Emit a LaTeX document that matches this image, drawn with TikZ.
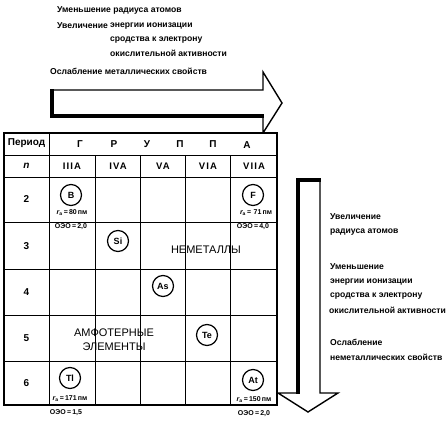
\documentclass[tikz,border=0pt]{standalone}
\usepackage{fontspec}
\setmainfont{Liberation Sans}
\begin{document}
\begin{tikzpicture}[x=1pt,y=-1pt,
  txt/.style={anchor=west,inner sep=0pt,font=\fontsize{8.6}{10}\selectfont\bfseries},
  gridline/.style={line width=0.9pt},
  border/.style={line width=1.4pt},
  elem/.style={circle,draw,line width=1.2pt,minimum size=21pt,inner sep=0pt,font=\fontsize{9}{10}\selectfont\bfseries},
  hdr/.style={font=\fontsize{10}{12}\selectfont\bfseries,inner sep=0pt},
  roman/.style={font=\fontsize{9.5}{12}\selectfont\bfseries\addfontfeature{LetterSpace=12},inner sep=0pt},
  small/.style={font=\fontsize{7}{8}\selectfont\bfseries,inner sep=0pt},
  big/.style={font=\fontsize{11}{14}\selectfont,inner sep=0pt,align=center},
  arrowbox/.style={line width=1.4pt,line join=miter,fill=white},
  shadow/.style={line width=3.2pt,line cap=rect}]
\useasboundingbox (0,0) rectangle (448,423);

% top texts
\node[txt] (t1) at (57,10) {Уменьшение радиуса атомов};
\node[txt] (t2) at (57,26) {Увеличение};
\node[txt] (t3) at (110,26) {энергии ионизации};
\node[txt] (t4) at (110,40) {сродства к электрону};
\node[txt] (t5) at (110,53) {окислительной активности};
\node[txt] (t6) at (50,71) {Ослабление металлических свойств};

% horizontal arrow
\draw[arrowbox] (52,90) -- (263,90) -- (263,72) -- (282,103) -- (263,133) -- (263,116) -- (52,116) -- cycle;
\draw[shadow] (52,91) -- (52,116) -- (262,116);

% vertical arrow
\draw[arrowbox] (298,180) -- (320,180) -- (320,393) -- (338,393) -- (308,412) -- (278,393) -- (298,393) -- cycle;
\draw[shadow] (298,392) -- (298,180) -- (319,180);

% right texts
\node[txt] (r1) at (330,217) {Увеличение};
\node[txt] (r2) at (330,232) {радиуса атомов};
\node[txt] (r3) at (330,267) {Уменьшение};
\node[txt] (r4) at (330,282) {энергии ионизации};
\node[txt] (r5) at (330,296) {сродства к электрону};
\node[txt] (r6) at (329,310) {окислительной активности};
\node[txt] (r7) at (330,342) {Ослабление};
\node[txt] (r8) at (330,357) {неметаллических свойств};

% table
\fill[white] (4,133) rectangle (277,405);
\foreach \yy in {155,177,222,269,315,361} \draw[gridline] (4,\yy) -- (277,\yy);
\draw[gridline] (49,133) -- (49,405);
\foreach \xx in {95,140,185,230} \draw[gridline] (\xx,155) -- (\xx,405);
\draw[border] (4,133) rectangle (277,405);

% header
\node[hdr] (per) at (26.5,143) {Период};
\node[hdr] (g1) at (80,144) {Г};
\node[hdr] (g2) at (114,144) {Р};
\node[hdr] (g3) at (147,144) {У};
\node[hdr] (g4) at (180,144) {П};
\node[hdr] (g5) at (213,144) {П};
\node[hdr] (g6) at (247,145) {А};
\node[hdr] (nn) at (26.5,166) {\itshape n};
\node[roman] (c1) at (72,166) {IIIA};
\node[roman] (c2) at (118,166) {IVA};
\node[roman] (c3) at (163,166) {VA};
\node[roman] (c4) at (208,166) {VIA};
\node[roman] (c5) at (254,166) {VIIA};
\node[hdr] (p2) at (26.5,199) {2};
\node[hdr] (p3) at (26.5,246) {3};
\node[hdr] (p4) at (26.5,292) {4};
\node[hdr] (p5) at (26.5,338) {5};
\node[hdr] (p6) at (26.5,383) {6};

% elements
\node[elem] (B) at (71,195) {B};
\node[small] (rB) at (72,213) {{\itshape r}\textsubscript{а}\,=\,80\,пм};
\node[small] (oB) at (71,227) {ОЭО\,=\,2,0};
\node[elem] (F) at (253,195) {F};
\node[small] (rF) at (256,213) {{\itshape r}\textsubscript{а}\,=\,\,71\,пм};
\node[small] (oF) at (253,227) {ОЭО\,=\,4,0};
\node[elem] (Si) at (118,241) {Si};
\node[big] (nm) at (206,250) {НЕМЕТАЛЛЫ};
\node[elem] (As) at (163,286) {As};
\node[big] (amf) at (114,339.5) {АМФОТЕРНЫЕ\\ЭЛЕМЕНТЫ};
\node[elem] (Te) at (207,335) {Te};
\node[elem] (Tl) at (70,378) {Tl};
\node[small] (rTl) at (70,399) {{\itshape r}\textsubscript{а}\,=\,171\,пм};
\node[small] (oTl) at (66,413) {ОЭО\,=\,1,5};
\node[elem] (At) at (253,380) {At};
\node[small] (rAt) at (254,400) {{\itshape r}\textsubscript{а}\,=\,150\,пм};
\node[small] (oAt) at (254,414) {ОЭО\,=\,2,0};
\end{tikzpicture}
\end{document}
